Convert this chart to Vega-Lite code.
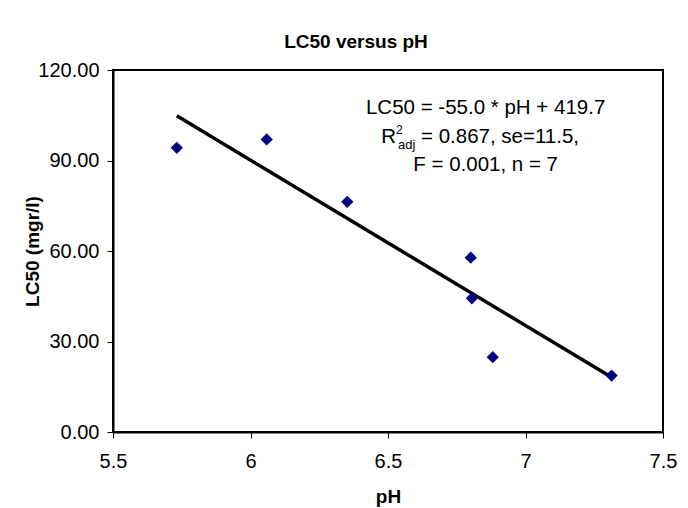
{
  "$schema": "https://vega.github.io/schema/vega-lite/v6.json",
  "width": 550,
  "height": 362,
  "autosize": {"type": "none"},
  "padding": {"left": 113, "top": 70, "right": 25, "bottom": 76},
  "background": "white",
  "config": {
    "font": "Liberation Sans",
    "view": {"stroke": "black", "strokeWidth": 2},
    "axis": {"grid": false, "labelFlush": false, "domainColor": "black", "domainWidth": 2, "tickColor": "black", "tickWidth": 1, "tickSize": 6, "labelColor": "black", "titleColor": "black", "labelFontSize": 20, "titleFontSize": 19, "titleFontWeight": "bold", "labelFont": "Liberation Sans", "titleFont": "Liberation Sans"}
  },
  "title": {"text": "LC50 versus pH", "fontSize": 19, "fontWeight": "bold", "font": "Liberation Sans", "color": "black", "anchor": "middle", "frame": "group", "baseline": "alphabetic", "offset": 23, "dy": 30, "dx": -32},
  "datasets": {
    "points": [
      {"pH": 5.732, "LC50": 94.2},
      {"pH": 6.059, "LC50": 97.0},
      {"pH": 6.352, "LC50": 76.3},
      {"pH": 6.801, "LC50": 57.8},
      {"pH": 6.805, "LC50": 44.3},
      {"pH": 6.881, "LC50": 24.8},
      {"pH": 7.313, "LC50": 18.7}
    ],
    "fit": [
      {"pH": 5.732, "LC50": 104.8},
      {"pH": 7.31, "LC50": 18.3}
    ],
    "labels": [
      {"pH": 6.855, "LC50": 107.4, "text": "LC50 = -55.0 * pH + 419.7"},
      {"pH": 6.855, "LC50": 88.5, "text": "F = 0.001, n = 7"}
    ],
    "r2": [
      {"pH": 6.62, "LC50": 97.8, "main": "= 0.867, se=11.5,", "R": "R", "sup": "2", "sub": "adj"}
    ]
  },
  "layer": [
    {
      "data": {"name": "fit"},
      "mark": {"type": "line", "color": "black", "strokeWidth": 3.5, "clip": true},
      "encoding": {
        "x": {"field": "pH", "type": "quantitative", "scale": {"domain": [5.5, 7.5], "nice": false, "zero": false},
              "axis": {"values": [5.5, 6, 6.5, 7, 7.5], "format": ".1~f", "title": "pH", "labelPadding": 13, "titleX": 275, "titleY": 64, "titleBaseline": "middle", "titleAlign": "center"}},
        "y": {"field": "LC50", "type": "quantitative", "scale": {"domain": [0, 120], "nice": false},
              "axis": {"values": [0, 30, 60, 90, 120], "format": ".2f", "title": "LC50 (mgr/l)", "labelPadding": 8, "titleX": -81, "titleY": 181, "titleAngle": -90, "titleBaseline": "middle", "titleAlign": "center"}}
      }
    },
    {
      "data": {"name": "points"},
      "mark": {"type": "point", "shape": "diamond", "filled": true, "color": "#000080", "size": 150, "opacity": 1},
      "encoding": {
        "x": {"field": "pH", "type": "quantitative"},
        "y": {"field": "LC50", "type": "quantitative"}
      }
    },
    {
      "data": {"name": "labels"},
      "mark": {"type": "text", "fontSize": 20.5, "color": "black", "align": "center", "baseline": "middle"},
      "encoding": {
        "x": {"field": "pH", "type": "quantitative"},
        "y": {"field": "LC50", "type": "quantitative"},
        "text": {"field": "text"}
      }
    },
    {
      "data": {"name": "r2"},
      "mark": {"type": "text", "fontSize": 20.5, "color": "black", "align": "left", "baseline": "middle"},
      "encoding": {
        "x": {"field": "pH", "type": "quantitative"},
        "y": {"field": "LC50", "type": "quantitative"},
        "text": {"field": "main"}
      }
    },
    {
      "data": {"name": "r2"},
      "mark": {"type": "text", "fontSize": 20.5, "color": "black", "align": "right", "baseline": "middle", "dx": -25},
      "encoding": {
        "x": {"field": "pH", "type": "quantitative"},
        "y": {"field": "LC50", "type": "quantitative"},
        "text": {"field": "R"}
      }
    },
    {
      "data": {"name": "r2"},
      "mark": {"type": "text", "fontSize": 12, "color": "black", "align": "left", "baseline": "middle", "dx": -25, "dy": -7},
      "encoding": {
        "x": {"field": "pH", "type": "quantitative"},
        "y": {"field": "LC50", "type": "quantitative"},
        "text": {"field": "sup"}
      }
    },
    {
      "data": {"name": "r2"},
      "mark": {"type": "text", "fontSize": 13, "color": "black", "align": "left", "baseline": "middle", "dx": -23, "dy": 8},
      "encoding": {
        "x": {"field": "pH", "type": "quantitative"},
        "y": {"field": "LC50", "type": "quantitative"},
        "text": {"field": "sub"}
      }
    }
  ]
}
